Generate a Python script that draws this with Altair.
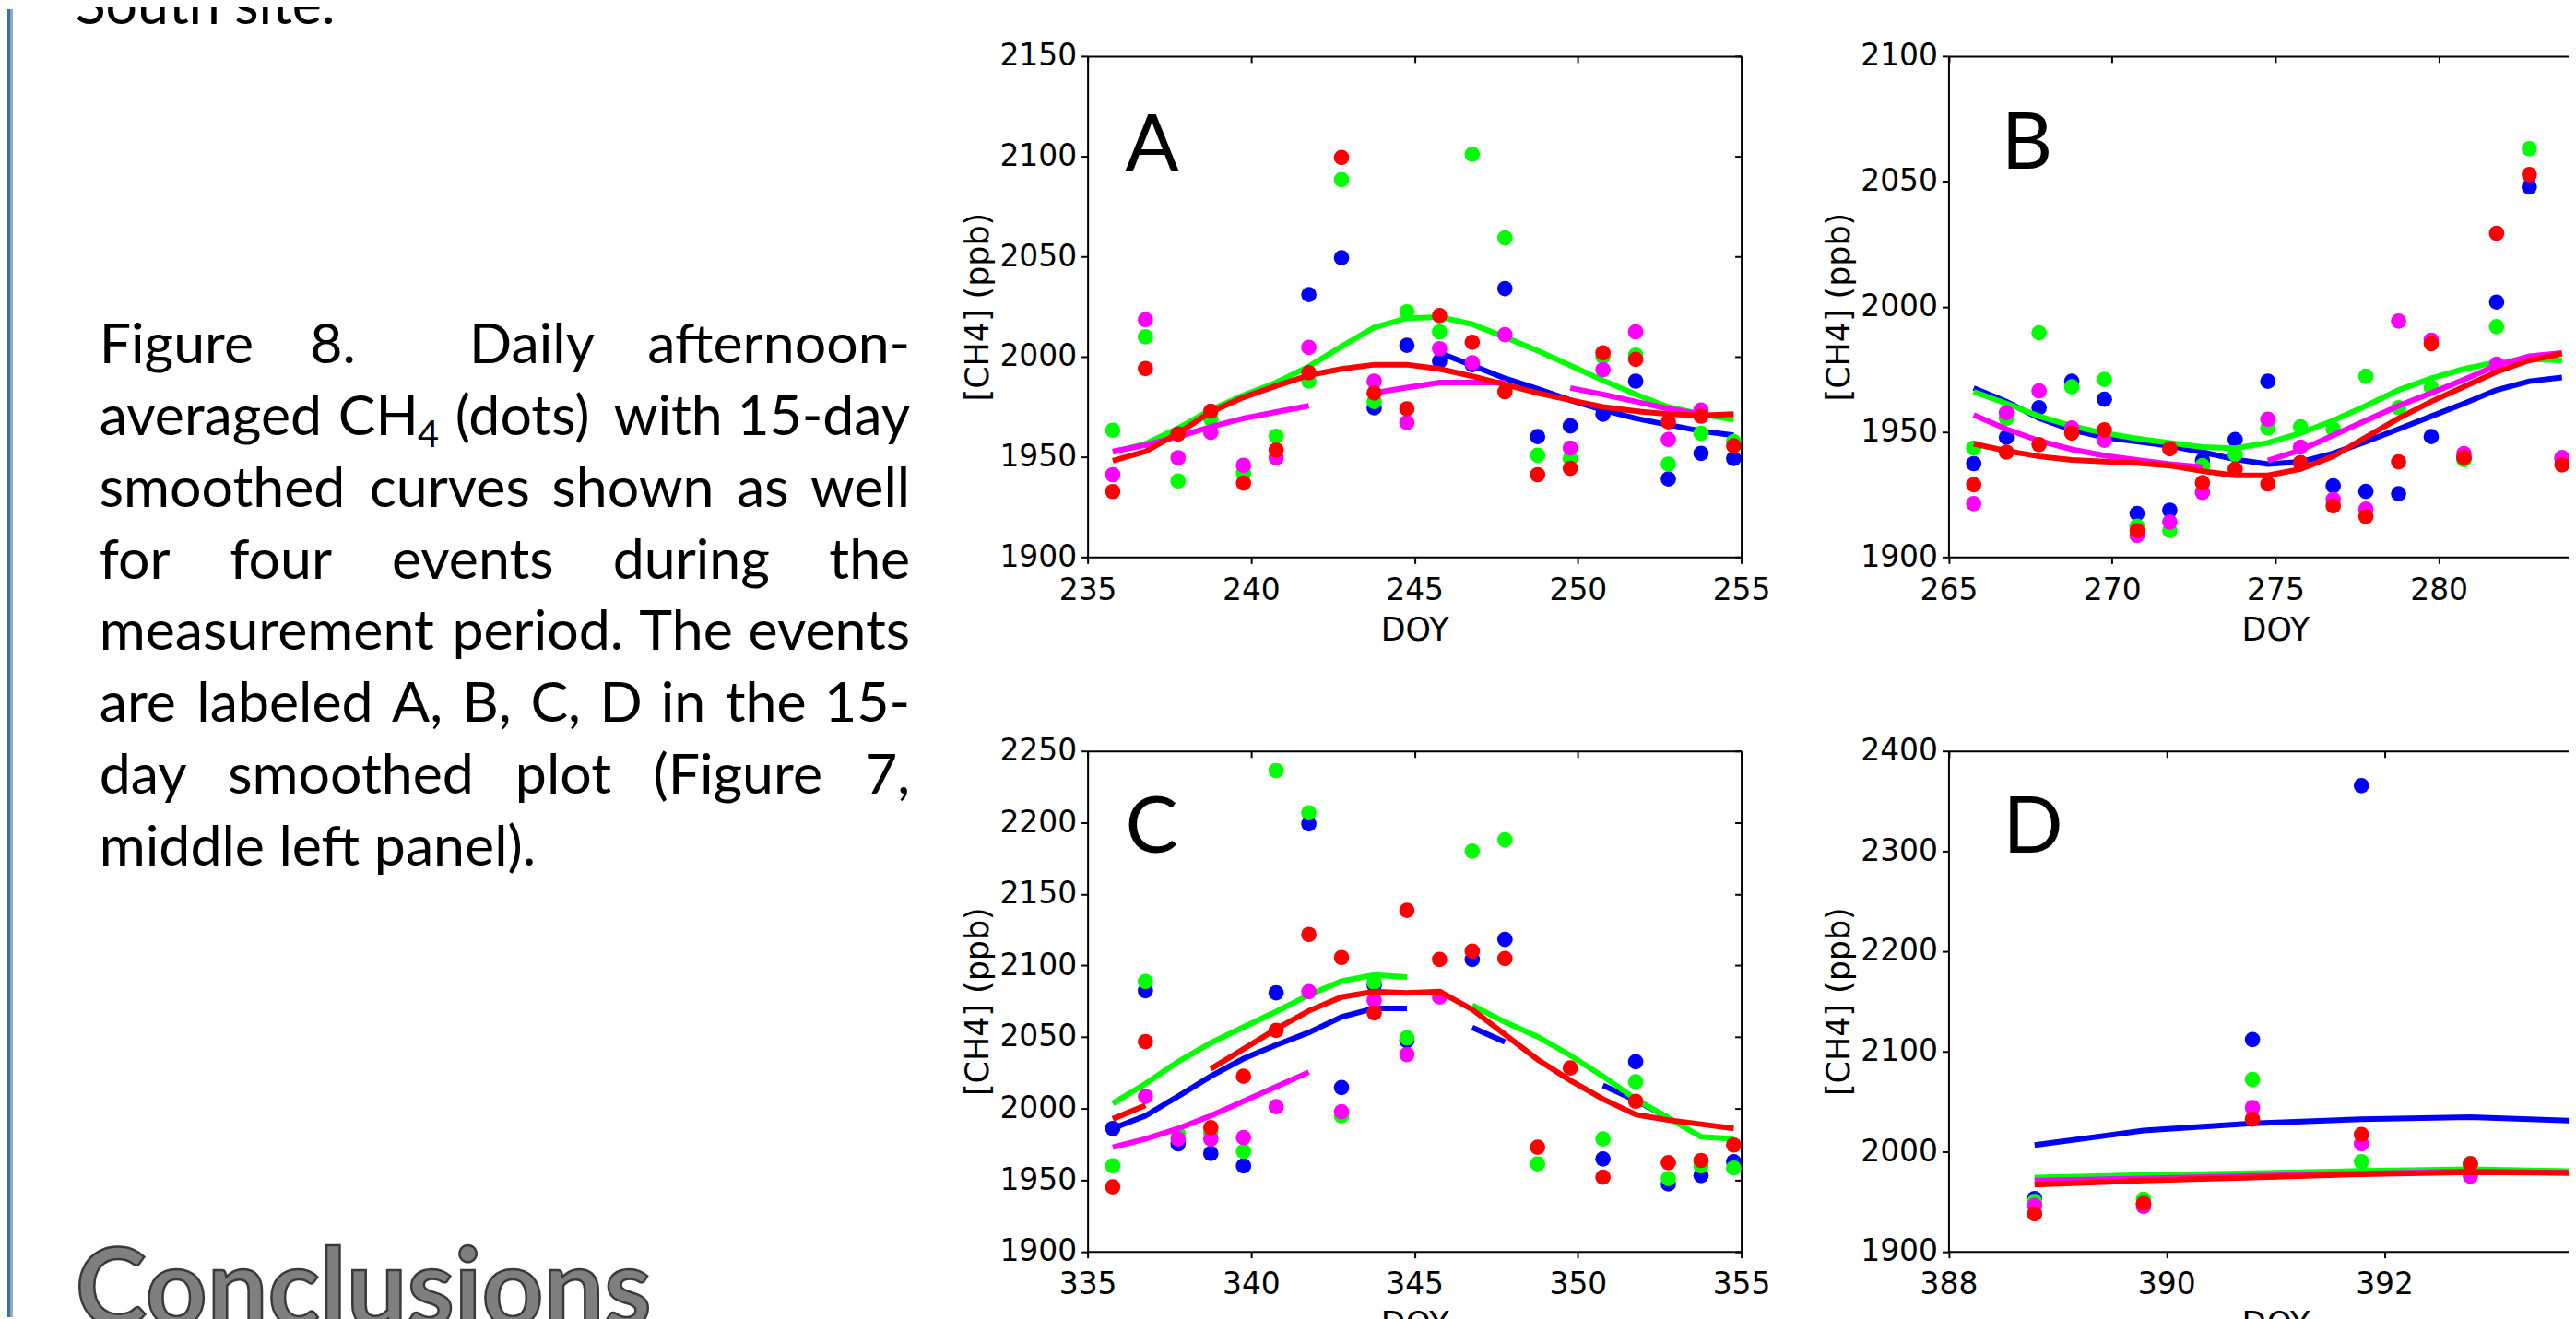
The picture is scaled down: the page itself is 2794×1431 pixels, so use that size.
import altair as alt
import pandas as pd

W, H = 2786, 1423          # whole drawing (px); the page adds an 8px margin
N = None

AXF = "DejaVu Sans"
TXF = "Lato"

SERIES = ["blue", "green", "magenta", "red"]
COLOR = {"blue": "#0000ff", "green": "#00ff00", "magenta": "#ff00ff", "red": "#ff0000"}

# ---------------- Event A ----------------
A_doy = [235.77, 236.77, 237.77, 238.77, 239.77, 240.77, 241.77, 242.77, 243.77, 244.77,
         245.77, 246.77, 247.77, 248.77, 249.77, 250.77, 251.77, 252.77, 253.77, 254.77]
A_dot_blue = [N, N, N, N, N, N, 2031.0, 2049.4, 1974.5, 2005.7,
              1997.7, 1996.0, 2034.0, 1960.1, 1965.4, 1971.3, 1987.8, 1939.0, 1951.7, 1949.2]
A_dot_green = [1963.3, 2009.9, 1938.0, 1969.0, 1941.8, 1960.3, 1987.8, 2088.4, 1977.6, 2022.4,
               2012.4, 2101.0, 2059.3, 1950.8, 1949.2, 2000.0, 2000.8, 1946.4, 1961.8, 1957.6]
A_dot_magenta = [1941.1, 2018.4, 1949.6, 1962.2, 1945.8, 1949.6, 2004.6, N, 1987.8, 1967.1,
                 2004.0, 1997.0, 2011.0, N, 1954.4, 1993.5, 2012.4, 1958.6, 1973.4, N]
A_dot_red = [1932.7, 1994.1, 1961.4, 1972.8, 1936.9, 1953.4, 1992.0, 2099.4, 1981.9, 1974.0,
             2020.5, 2007.2, 1982.5, 1941.1, 1944.3, 2001.9, 1998.7, 1967.5, 1970.3, 1955.5]
A_fit_blue = [N, N, N, N, N, N, N, N, N, N,
              2001.9, 1995.6, 1989.2, 1984.0, 1978.3, 1973.4, 1969.2, 1966.0, 1962.9, 1960.8]
A_fit_green = [1952.3, 1956.5, 1964.3, 1973.4, 1980.8, 1987.1, 1995.1, 2005.1, 2014.6, 2019.2,
               2019.8, 2016.2, 2009.7, 2003.0, 1995.6, 1988.2, 1981.2, 1974.9, 1971.3, 1968.6]
A_fit_magenta = [1952.7, 1955.9, 1960.1, 1965.0, 1969.2, 1972.4, 1975.5, N, 1981.9, 1984.6,
                 1987.1, 1987.1, 1987.1, N, 1984.4, 1981.2, 1977.6, 1974.0, 1971.3, N]
A_fit_red = [1948.1, 1952.7, 1961.8, 1972.4, 1979.7, 1985.4, 1990.7, 1993.9, 1996.0, 1996.0,
             1993.9, 1990.3, 1986.1, 1981.9, 1978.3, 1974.9, 1972.8, 1971.3, 1970.7, 1971.3]
A_xdom, A_ydom = [235, 255], [1900, 2150]
A_xticks = [235, 240, 245, 250, 255]
A_yticks = [1900, 1950, 2000, 2050, 2100, 2150]
A_label = (236.15, 2093.0)

# ---------------- Event B ----------------
B_doy = [265.77, 266.77, 267.77, 268.77, 269.77, 270.77, 271.77, 272.77, 273.77, 274.77,
         275.77, 276.77, 277.77, 278.77, 279.77, 280.77, 281.77, 282.77, 283.77]
B_dot_blue = [1937.3, 1947.8, 1959.6, 1970.2, 1963.0, 1917.4, 1918.7, 1938.5, 1946.9, 1970.2,
              1937.6, 1928.4, 1926.2, 1925.3, 1948.1, 1939.7, 2001.8, 2047.8, 1939.3]
B_dot_green = [1943.5, 1955.4, 1989.5, 1968.0, 1970.9, 1912.3, 1910.6, 1936.5, 1941.0, 1951.5,
               1952.0, 1951.1, 1972.2, 1959.6, 1967.7, 1938.8, 1992.0, 2063.0, N]
B_dot_magenta = [1921.3, 1957.6, 1966.3, 1951.5, 1946.6, 1908.6, 1914.0, 1925.8, N, 1955.0,
                 1943.9, 1923.0, 1919.1, 1994.2, 1986.6, 1941.3, 1977.0, N, 1939.7]
B_dot_red = [1928.9, 1941.9, 1944.9, 1949.5, 1950.8, 1910.6, 1943.2, 1929.7, 1935.1, 1929.2,
             1937.6, 1920.4, 1916.2, 1938.0, 1985.2, 1939.7, 2029.3, 2052.7, 1936.8]
B_fit_blue = [1967.5, 1962.1, 1955.4, 1950.8, 1947.8, 1946.1, 1944.4, 1941.9, 1939.0, 1937.1,
              1938.0, 1941.4, 1946.1, 1951.1, 1956.2, 1961.3, 1966.7, 1970.2, 1971.7]
B_fit_green = [1966.0, 1961.3, 1956.2, 1952.3, 1949.5, 1947.3, 1945.6, 1943.9, 1943.5, 1945.6,
               1949.5, 1954.5, 1960.4, 1966.7, 1971.4, 1975.1, 1977.8, 1979.0, 1978.5]
B_fit_magenta = [1956.7, 1951.1, 1946.4, 1943.0, 1940.5, 1938.8, 1937.1, 1935.9, N, 1938.5,
                 1942.7, 1948.6, 1954.5, 1960.4, 1965.5, 1970.9, 1976.5, 1980.2, 1981.5]
B_fit_red = [1945.2, 1942.4, 1940.2, 1938.8, 1938.1, 1937.6, 1936.5, 1934.3, 1932.6, 1932.6,
             1935.1, 1940.2, 1947.8, 1955.4, 1962.1, 1968.0, 1973.9, 1978.5, 1981.2]
B_xdom, B_ydom = [265, 285], [1900, 2100]
B_xticks = [265, 270, 275, 280, 285]
B_yticks = [1900, 1950, 2000, 2050, 2100]
B_label = (266.62, 2055.0)

# ---------------- Event C ----------------
C_doy = [335.77, 336.77, 337.77, 338.77, 339.77, 340.77, 341.77, 342.77, 343.77, 344.77,
         345.77, 346.77, 347.77, 348.77, 349.77, 350.77, 351.77, 352.77, 353.77, 354.77]
C_dot_blue = [1986.0, 2082.3, 1975.2, 1968.5, 1959.8, 2080.8, 2199.0, 2014.6, 2086.1, 2047.3,
              N, 2104.2, 2118.2, N, N, 1964.7, 2032.7, 1947.2, 1953.1, 1962.7]
C_dot_green = [1959.8, 2088.7, 1982.2, 1983.0, 1970.0, 2236.3, 2206.8, 1994.8, 2088.1, 2049.3,
               N, 2180.0, 2187.9, 1961.3, N, 1978.7, 2018.7, 1951.0, 1959.8, 1958.3]
C_dot_magenta = [N, 2008.5, 1978.7, 1978.7, 1979.6, 2001.2, 2081.7, 1997.7, 2075.6, 2037.7,
                 2077.9, N, N, N, N, N, N, N, N, N]
C_dot_red = [1945.2, 2046.7, N, 1986.6, 2022.5, 2054.6, 2121.7, 2105.6, 2066.8, 2138.6,
             2104.2, 2110.0, 2104.8, 1972.9, 2028.3, 1951.9, 2005.0, 1962.1, 1963.6, 1974.4]
C_fit_blue = [1986.0, 1994.8, 2008.5, 2022.5, 2034.8, 2044.4, 2053.1, 2063.9, 2070.0, 2070.0,
              N, 2056.6, 2046.4, N, N, 2016.1, 2005.6, 1993.5, N, N]
C_fit_green = [2003.5, 2017.3, 2032.7, 2045.8, 2056.9, 2067.7, 2079.4, 2089.0, 2093.4, 2091.9,
               N, 2072.1, 2060.4, 2050.2, 2037.1, 2022.5, 2006.5, 1993.3, 1980.2, 1978.7]
C_fit_magenta = [1972.9, 1978.7, 1986.0, 1994.8, 2005.0, 2015.2, 2025.4, N, N, N,
                 N, N, N, N, N, N, N, N, N, N]
C_fit_red = [1992.7, 2002.1, N, 2027.7, 2041.5, 2055.5, 2068.3, 2077.9, 2081.7, 2080.8,
             2081.7, 2069.2, 2051.7, 2034.2, 2019.6, 2006.5, 1995.7, 1991.9, 1989.0, 1986.0]
C_xdom, C_ydom = [335, 355], [1900, 2250]
C_xticks = [335, 340, 345, 350, 355]
C_yticks = [1900, 1950, 2000, 2050, 2100, 2150, 2200, 2250]
C_label = (336.15, 2178.6)

# ---------------- Event D ----------------
D_doy = [388.79, 389.79, 390.79, 391.79, 392.79, 393.79]
D_dot_blue = [1952.9, 1947.9, 2111.7, 2365.4, 1987.5, N]
D_dot_green = [1950.0, 1952.0, 2071.7, 1989.6, 1987.5, N]
D_dot_magenta = [1945.8, 1945.0, 2043.8, 2007.5, 1975.0, N]
D_dot_red = [1937.5, 1947.9, 2032.1, 2016.7, 1987.5, N]
D_fit_blue = [2006.3, 2020.8, 2027.9, 2032.1, 2034.2, 2030.4]
D_fit_green = [1973.8, 1976.3, 1978.3, 1980.4, 1982.1, 1980.0]
D_fit_magenta = [1970.8, 1973.0, 1975.5, 1977.8, 1980.0, 1978.3]
D_fit_red = [1966.7, 1970.8, 1973.8, 1977.1, 1979.2, 1978.3]
D_xdom, D_ydom = [388, 394], [1900, 2400]
D_xticks = [388, 390, 392, 394]
D_yticks = [1900, 2000, 2100, 2200, 2300, 2400]
D_label = (388.5, 2298.0)

EVENTS = [
    dict(name="A", doy=A_doy, xdom=A_xdom, ydom=A_ydom, xt=A_xticks, yt=A_yticks, lab=A_label,
         dots=dict(blue=A_dot_blue, green=A_dot_green, magenta=A_dot_magenta, red=A_dot_red),
         fits=dict(blue=A_fit_blue, green=A_fit_green, magenta=A_fit_magenta, red=A_fit_red)),
    dict(name="B", doy=B_doy, xdom=B_xdom, ydom=B_ydom, xt=B_xticks, yt=B_yticks, lab=B_label,
         dots=dict(blue=B_dot_blue, green=B_dot_green, magenta=B_dot_magenta, red=B_dot_red),
         fits=dict(blue=B_fit_blue, green=B_fit_green, magenta=B_fit_magenta, red=B_fit_red)),
    dict(name="C", doy=C_doy, xdom=C_xdom, ydom=C_ydom, xt=C_xticks, yt=C_yticks, lab=C_label,
         dots=dict(blue=C_dot_blue, green=C_dot_green, magenta=C_dot_magenta, red=C_dot_red),
         fits=dict(blue=C_fit_blue, green=C_fit_green, magenta=C_fit_magenta, red=C_fit_red)),
    dict(name="D", doy=D_doy, xdom=D_xdom, ydom=D_ydom, xt=D_xticks, yt=D_yticks, lab=D_label,
         dots=dict(blue=D_dot_blue, green=D_dot_green, magenta=D_dot_magenta, red=D_dot_red),
         fits=dict(blue=D_fit_blue, green=D_fit_green, magenta=D_fit_magenta, red=D_fit_red)),
]

# plot boxes: left, right, top, bottom (px inside the drawing)
GEOM = {"A": (1175, 1886, 51, 596), "B": (2111.5, 2822.5, 51, 596),
        "C": (1175, 1886, 807, 1351.5), "D": (2111.5, 2822.5, 807, 1351.5)}

# ---------------- left text column ----------------
CAPTION = [
    "Figure 8.  Daily afternoon-",
    "averaged CH4 (dots) with 15-day",
    "smoothed curves shown as well",
    "for four events during the",
    "measurement period. The events",
    "are labeled A, B, C, D in the 15-",
    "day smoothed plot (Figure 7,",
    "middle left panel).",
]
PREV_TEXT = "South site."
HEADING = "Conclusions"

FS = 61
CAP_L, CAP_R = 100, 982
CAP_Y0, CAP_DY = 385, 78.1
LATO_W = {' ': 0.193, 'a': 0.49, 'b': 0.56, 'c': 0.46, 'd': 0.565, 'e': 0.52, 'f': 0.32,
          'g': 0.50, 'h': 0.56, 'i': 0.235, 'l': 0.235, 'm': 0.84, 'n': 0.56, 'o': 0.565,
          'p': 0.56, 'r': 0.37, 's': 0.41, 't': 0.36, 'u': 0.56, 'v': 0.50, 'w': 0.77,
          'y': 0.50, 'A': 0.68, 'B': 0.64, 'C': 0.66, 'D': 0.73, 'F': 0.55, 'H': 0.74,
          'T': 0.58, 'S': 0.52, '-': 0.34, '.': 0.22, ',': 0.22, '(': 0.31, ')': 0.31}
SUB = 0.66


def tw(t):
    return sum(LATO_W.get(c, 0.58) for c in t) * FS


def word_width(t):
    if t == "CH4":
        return tw("CH") + SUB * tw("4")
    return tw(t)


left_words, right_words, subs = [], [], []
for i, line in enumerate(CAPTION):
    y = CAP_Y0 + CAP_DY * i
    if i == len(CAPTION) - 1:
        left_words.append({"w": line, "px": CAP_L, "py": y})
        continue
    toks = line.split(" ")
    widths = [word_width(t) for t in toks]
    gap = (CAP_R - CAP_L - sum(widths)) / (len(toks) - 1)
    x = CAP_L
    for j, (t, w) in enumerate(zip(toks, widths)):
        if t == "CH4":
            left_words.append({"w": "CH", "px": x, "py": y})
            subs.append({"w": "4", "px": x + tw("CH") + 1, "py": y + 0.22 * FS})
        elif j == len(toks) - 1:
            right_words.append({"w": t, "px": CAP_R, "py": y})
        elif t:
            left_words.append({"w": t, "px": x, "py": y})
        x += w + gap

one = pd.DataFrame({"k": [0]})
layers = []

# side bar
layers.append(alt.Chart(one).mark_rect(color="#2E74B5").encode(
    x=alt.value(-8), x2=alt.value(3.7), y=alt.value(0), y2=alt.value(H)))
layers.append(alt.Chart(one).mark_rect(color="#A6A6A6").encode(
    x=alt.value(3.7), x2=alt.value(6), y=alt.value(0), y2=alt.value(H)))


def text_layer(df, align, size):
    return alt.Chart(pd.DataFrame(df)).mark_text(
        align=align, baseline="alphabetic", font=TXF, fontSize=size, color="black"
    ).encode(x=alt.X("px:Q", scale=None, axis=None),
             y=alt.Y("py:Q", scale=None, axis=None), text="w:N")


layers.append(text_layer(left_words, "left", FS))
layers.append(text_layer(right_words, "right", FS))
layers.append(text_layer(subs, "left", round(FS * SUB)))
layers.append(alt.Chart(one).mark_text(
    align="left", baseline="alphabetic", font=TXF, fontSize=FS, color="black", text=PREV_TEXT
).encode(x=alt.value(74), y=alt.value(16)))
layers.append(alt.Chart(one).mark_text(
    align="left", baseline="alphabetic", font=TXF, fontSize=117, fontWeight="bold",
    color="#7F7F7F", stroke="#3A3A3A", strokeWidth=2.5, text=HEADING
).encode(x=alt.value(74), y=alt.value(1432)))

# ---------------- panels ----------------
AX_COMMON = dict(grid=False, tickSize=7, tickWidth=2, tickColor="black",
                 domainColor="black", domainWidth=2)


def main_axes(g, xt, yt):
    left, right, top, bottom = g
    xa = alt.Axis(orient="bottom", offset=-(H - bottom), values=xt, format="d",
                  labelFont=AXF, labelFontSize=33, labelColor="black", labelPadding=13,
                  labelFlush=False, labelOverlap=False,
                  title="DOY", titleFont=AXF, titleFontSize=35, titleFontWeight="normal",
                  titleColor="black", titlePadding=9, **AX_COMMON)
    ya = alt.Axis(orient="left", offset=-left, values=yt, format="d",
                  labelFont=AXF, labelFontSize=33, labelColor="black", labelPadding=5,
                  labelFlush=False, labelOverlap=False,
                  title="[CH4] (ppb)", titleFont=AXF, titleFontSize=35,
                  titleFontWeight="normal", titleColor="black", titlePadding=5, **AX_COMMON)
    return xa, ya


def mirror_axes(g, xt, yt):
    left, right, top, bottom = g
    xa = alt.Axis(orient="bottom", offset=-(H - top), values=xt, labels=False,
                  title=None, **AX_COMMON)
    ya = alt.Axis(orient="left", offset=-right, values=yt, labels=False,
                  title=None, **AX_COMMON)
    return xa, ya


def dots_df(doy, vals):
    return pd.DataFrame([{"doy": d, "ch4": v} for d, v in zip(doy, vals) if v is not None])


def fit_df(doy, vals):
    rows, seg, is_open = [], 0, False
    for d, v in zip(doy, vals):
        if v is None:
            if is_open:
                seg += 1
            is_open = False
        else:
            rows.append({"doy": d, "ch4": v, "seg": seg})
            is_open = True
    return pd.DataFrame(rows)


for ev in EVENTS:
    g = GEOM[ev["name"]]
    left, right, top, bottom = g

    def enc(xa=None, ya=None):
        xs = alt.Scale(domain=ev["xdom"], range=[left, right], nice=False, zero=False)
        ys = alt.Scale(domain=ev["ydom"], range=[bottom, top], nice=False, zero=False)
        return dict(x=alt.X("doy:Q", scale=xs, axis=xa), y=alt.Y("ch4:Q", scale=ys, axis=ya))

    for s in SERIES:
        if s == "blue":
            xa, ya = main_axes(g, ev["xt"], ev["yt"])
            xm, ym = mirror_axes(g, ev["xt"], ev["yt"])
        else:
            xa = ya = xm = ym = None
        layers.append(alt.Chart(dots_df(ev["doy"], ev["dots"][s])).mark_circle(
            size=280, opacity=1, color=COLOR[s]).encode(**enc(xa, ya)))
        layers.append(alt.Chart(fit_df(ev["doy"], ev["fits"][s])).mark_line(
            color=COLOR[s], strokeWidth=6).encode(detail="seg:N", **enc(xm, ym)))

    lab = pd.DataFrame({"doy": [ev["lab"][0]], "ch4": [ev["lab"][1]], "t": [ev["name"]]})
    layers.append(alt.Chart(lab).mark_text(
        align="left", baseline="alphabetic", font=TXF, fontSize=86, color="black"
    ).encode(text="t:N", **enc()))

chart = alt.layer(*layers).resolve_scale(x="independent", y="independent").properties(
    width=W, height=H, padding=0, autosize=alt.AutoSizeParams(type="none")
).configure_view(stroke=None)

chart.save("out.html", embed_options={"renderer": "svg", "actions": False})
